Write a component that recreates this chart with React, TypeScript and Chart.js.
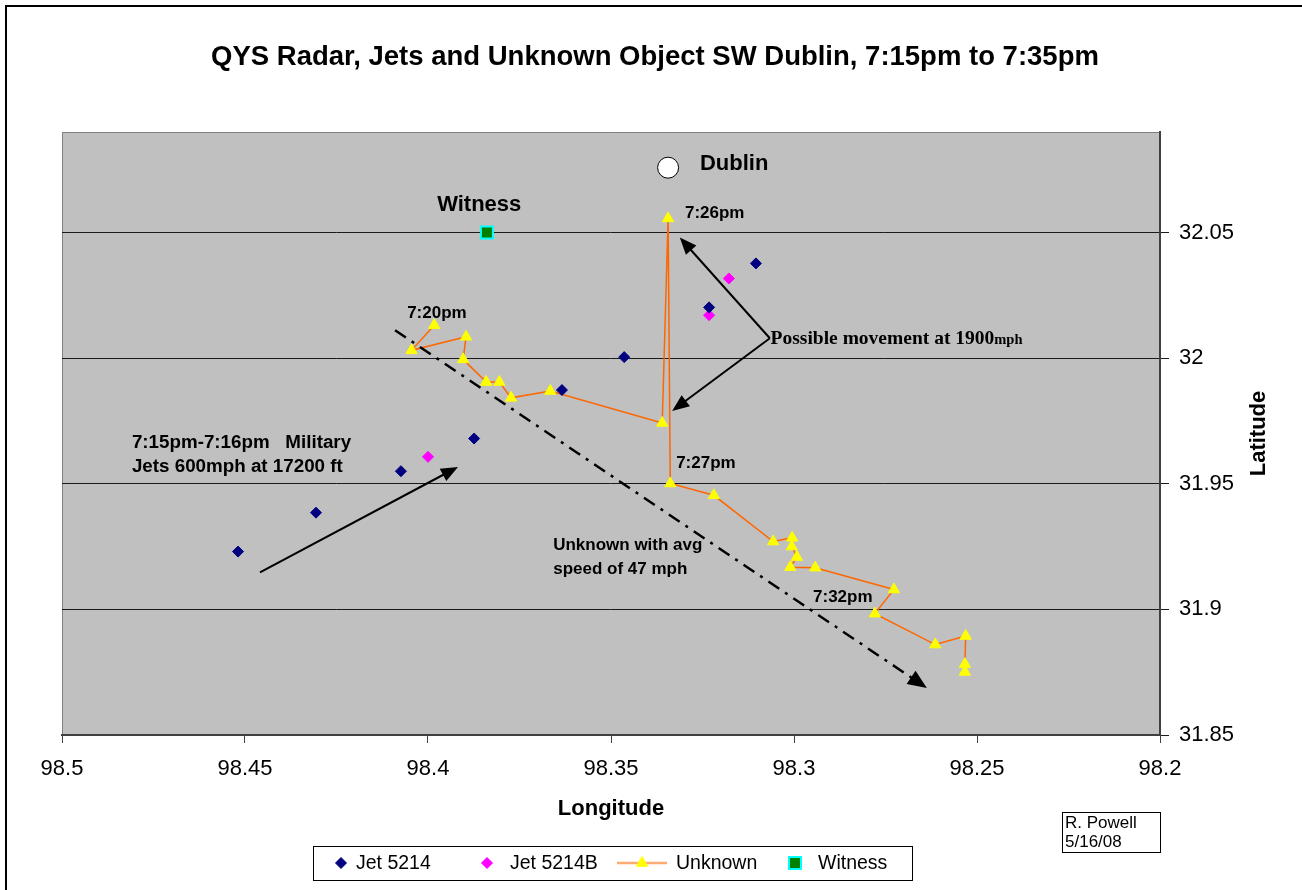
import { useEffect, useRef } from 'react';
import { Chart, registerables } from 'chart.js';
Chart.register(...registerables);

const SANS = '"Liberation Sans", Arial, sans-serif';
const SERIF = '"Liberation Serif", "Times New Roman", serif';

// ---- Data (longitude W, latitude N) ----
const seriesLabels = ['Jet 5214', 'Jet 5214B', 'Unknown', 'Witness'];

const jetLon = [98.4519, 98.4306, 98.4074, 98.3874, 98.3634, 98.3464, 98.3232, 98.3104];
const jetLat = [31.923, 31.9385, 31.955, 31.968, 31.9873, 32.0004, 32.0202, 32.0377];

const jetBLon = [98.4, 98.3232, 98.3178];
const jetBLat = [31.9607, 32.0171, 32.0317];

const unknownLon = [
  98.3983, 98.4045, 98.3896, 98.3904, 98.3841, 98.3805, 98.3773, 98.3666, 98.336, 98.3344,
  98.3338, 98.3219, 98.3057, 98.3005, 98.3006, 98.2992, 98.301, 98.2942, 98.2727, 98.2779,
  98.2614, 98.2531, 98.2533, 98.2533,
];
const unknownLat = [
  32.0131, 32.0031, 32.0085, 31.9995, 31.9905, 31.9905, 31.9842, 31.9869, 31.9742, 32.0556,
  31.9501, 31.9454, 31.927, 31.9285, 31.925, 31.9208, 31.9168, 31.9166, 31.9079, 31.8983,
  31.886, 31.8894, 31.8782, 31.8751,
];

const witnessLon = [98.3839];
const witnessLat = [32.05];

const dublinLon = [98.3344];
const dublinLat = [32.0758];

const xTicks = [98.5, 98.45, 98.4, 98.35, 98.3, 98.25, 98.2];
const yTicks = [31.85, 31.9, 31.95, 32, 32.05];

// ---- Annotations (in data coordinates) ----
const noteTexts = [
  'Dublin', 'Witness', '7:26pm', '7:20pm', '7:27pm', '7:32pm',
  '7:15pm-7:16pm   Military', 'Jets 600mph at 17200 ft', 'Unknown with avg', 'speed of 47 mph',
];
const noteLon = [98.3257, 98.3975, 98.3298, 98.4057, 98.3322, 98.2948, 98.4809, 98.4809, 98.3658, 98.3658];
const noteLat = [32.0774, 32.0611, 32.0575, 32.0179, 31.9583, 31.9048, 31.9663, 31.9567, 31.9254, 31.9159];
const noteSize = [22, 22, 17, 17, 17, 17, 18.8, 18.8, 17, 17];

const arrowFrom = [
  [98.4459, 31.9147],
  [98.409, 32.0111],
  [98.3066, 32.0079],
  [98.3066, 32.0079],
];
const arrowTo = [
  [98.3918, 31.9567],
  [98.2637, 31.8687],
  [98.3312, 32.048],
  [98.3333, 31.979],
];
const arrowDashed = [false, true, false, false];

const movementText = 'Possible movement at 1900';
const movementUnit = 'mph';
const movementLon = 98.3064;
const movementLat = 32.0079;

const pts = (xs: number[], ys: number[]) => xs.map((x, i) => ({ x, y: ys[i] }));
const fmt = (v: number) => String(Number(Number(v).toFixed(2)));

function drawMarker(ctx: CanvasRenderingContext2D, style: string, x: number, y: number, r: number, fill: string, stroke: string, bw: number) {
  ctx.save();
  ctx.beginPath();
  if (style === 'rectRot') {
    ctx.moveTo(x - r, y);
    ctx.lineTo(x, y - r);
    ctx.lineTo(x + r, y);
    ctx.lineTo(x, y + r);
    ctx.closePath();
  } else if (style === 'triangle') {
    const a = (2 * Math.PI) / 3;
    ctx.moveTo(x, y - r);
    ctx.lineTo(x + Math.sin(a) * r, y - Math.cos(a) * r);
    ctx.lineTo(x + Math.sin(2 * a) * r, y - Math.cos(2 * a) * r);
    ctx.closePath();
  } else {
    const s = Math.SQRT1_2 * r;
    ctx.rect(x - s, y - s, 2 * s, 2 * s);
  }
  ctx.fillStyle = fill;
  ctx.fill();
  if (bw > 0) {
    ctx.lineWidth = bw;
    ctx.strokeStyle = stroke;
    ctx.stroke();
  }
  ctx.restore();
}

function arrow(ctx: CanvasRenderingContext2D, x1: number, y1: number, x2: number, y2: number, dashed: boolean) {
  const ang = Math.atan2(y2 - y1, x2 - x1);
  const L = dashed ? 19 : 17;
  const W = dashed ? 8 : 7;
  const bx = x2 - Math.cos(ang) * L;
  const by = y2 - Math.sin(ang) * L;
  ctx.save();
  ctx.strokeStyle = '#000';
  ctx.fillStyle = '#000';
  ctx.lineWidth = dashed ? 2.5 : 2;
  if (dashed) ctx.setLineDash([13, 7, 3, 7]);
  ctx.beginPath();
  ctx.moveTo(x1, y1);
  ctx.lineTo(bx + Math.cos(ang) * 3, by + Math.sin(ang) * 3);
  ctx.stroke();
  ctx.setLineDash([]);
  ctx.beginPath();
  ctx.moveTo(x2, y2);
  ctx.lineTo(bx + Math.sin(ang) * W, by - Math.cos(ang) * W);
  ctx.lineTo(bx - Math.sin(ang) * W, by + Math.cos(ang) * W);
  ctx.closePath();
  ctx.fill();
  ctx.restore();
}

const backgroundPlugin = {
  id: 'plotBg',
  beforeDraw(chart: any) {
    const { ctx, chartArea: a } = chart;
    ctx.save();
    ctx.fillStyle = '#fff';
    ctx.fillRect(0, 0, chart.width, chart.height);
    ctx.fillStyle = '#C0C0C0';
    ctx.fillRect(a.left, a.top, a.right - a.left, a.bottom - a.top);
    ctx.strokeStyle = '#808080';
    ctx.lineWidth = 1;
    ctx.beginPath();
    ctx.moveTo(a.left + 0.5, a.bottom);
    ctx.lineTo(a.left + 0.5, a.top + 0.5);
    ctx.lineTo(a.right, a.top + 0.5);
    ctx.stroke();
    // outer chart border
    ctx.strokeStyle = '#000';
    ctx.lineWidth = 2;
    ctx.strokeRect(6, 6, chart.width + 20, chart.height + 20);
    ctx.restore();
  },
};

const annotationPlugin = {
  id: 'notes',
  afterDatasetsDraw(chart: any) {
    const { ctx } = chart;
    const xs = chart.scales.x;
    const ys = chart.scales.y;
    const X = (v: number) => xs.getPixelForValue(v);
    const Y = (v: number) => ys.getPixelForValue(v);
    ctx.save();
    ctx.fillStyle = '#000';
    ctx.textBaseline = 'middle';
    ctx.textAlign = 'left';
    noteTexts.forEach((t, i) => {
      ctx.font = `bold ${noteSize[i]}px ${SANS}`;
      ctx.fillText(t, X(noteLon[i]), Y(noteLat[i]));
    });
    ctx.textBaseline = 'alphabetic';
    const mx = X(movementLon);
    const my = Y(movementLat) + 6;
    ctx.font = `bold 19.5px ${SERIF}`;
    ctx.fillText(movementText, mx, my);
    const w = ctx.measureText(movementText).width;
    ctx.font = `bold 14.5px ${SERIF}`;
    ctx.fillText(movementUnit, mx + w, my);
    arrowFrom.forEach((f, i) => {
      arrow(ctx, X(f[0]), Y(f[1]), X(arrowTo[i][0]), Y(arrowTo[i][1]), arrowDashed[i]);
    });
    ctx.restore();
  },
};

const framePlugin = {
  id: 'frame',
  afterDraw(chart: any) {
    const { ctx, chartArea: a } = chart;
    ctx.save();
    ctx.fillStyle = '#000';
    // title
    ctx.font = `bold 27.5px ${SANS}`;
    ctx.textAlign = 'center';
    ctx.textBaseline = 'middle';
    ctx.fillText('QYS Radar, Jets and Unknown Object SW Dublin, 7:15pm to 7:35pm', 655, 57);
    // y title
    ctx.save();
    ctx.translate(1259, (a.top + a.bottom) / 2);
    ctx.rotate(-Math.PI / 2);
    ctx.font = `bold 22px ${SANS}`;
    ctx.fillText('Latitude', 0, 0);
    ctx.restore();
    // legend
    const lx = 313, ly = 846, lw = 599, lh = 34, cy = ly + lh / 2;
    ctx.fillStyle = '#fff';
    ctx.fillRect(lx, ly, lw, lh);
    ctx.strokeStyle = '#000';
    ctx.lineWidth = 1;
    ctx.strokeRect(lx + 0.5, ly + 0.5, lw, lh);
    const ds = chart.data.datasets;
    const markerX = [341, 487, 642, 795];
    const textX = [356, 510, 676, 818];
    ctx.font = `19.5px ${SANS}`;
    ctx.textAlign = 'left';
    ctx.fillStyle = '#000';
    for (let i = 0; i < 4; i++) {
      const d = ds[i];
      if (d.showLine) {
        ctx.strokeStyle = d.borderColor;
        ctx.globalAlpha = 0.55;
        ctx.lineWidth = 2.5;
        ctx.beginPath();
        ctx.moveTo(markerX[i] - 25, cy);
        ctx.lineTo(markerX[i] + 25, cy);
        ctx.stroke();
        ctx.globalAlpha = 1;
      }
      drawMarker(ctx, d.pointStyle, markerX[i], cy, d.pointRadius, d.pointBackgroundColor, d.pointBorderColor, d.pointBorderWidth);
      ctx.fillStyle = '#000';
      ctx.fillText(d.label, textX[i], cy + 1);
    }
    // author box
    ctx.strokeStyle = '#000';
    ctx.lineWidth = 1;
    ctx.strokeRect(1062.5, 812.5, 98, 40);
    ctx.font = `17px ${SANS}`;
    ctx.fillText('R. Powell', 1065, 823);
    ctx.fillText('5/16/08', 1065, 842);
    ctx.restore();
  },
};

export default function App() {
  const ref = useRef<HTMLCanvasElement>(null);
  useEffect(() => {
    document.body.style.margin = '0';
    document.body.style.overflow = 'hidden';
    const canvas = ref.current!;
    const chart = new Chart(canvas, {
      type: 'scatter',
      data: {
        datasets: [
          {
            label: seriesLabels[0],
            data: pts(jetLon, jetLat),
            pointStyle: 'rectRot',
            pointRadius: 5.5,
            pointBackgroundColor: '#000080',
            pointBorderColor: '#000080',
            pointBorderWidth: 1,
            showLine: false,
          },
          {
            label: seriesLabels[1],
            data: pts(jetBLon, jetBLat),
            pointStyle: 'rectRot',
            pointRadius: 5.5,
            pointBackgroundColor: '#FF00FF',
            pointBorderColor: '#FF00FF',
            pointBorderWidth: 1,
            showLine: false,
          },
          {
            label: seriesLabels[2],
            data: pts(unknownLon, unknownLat),
            pointStyle: 'triangle',
            pointRadius: 6.5,
            pointBackgroundColor: '#FFFF00',
            pointBorderColor: '#FFFF00',
            pointBorderWidth: 1,
            borderColor: '#FF6600',
            borderWidth: 1.5,
            showLine: true,
            tension: 0,
          },
          {
            label: seriesLabels[3],
            data: pts(witnessLon, witnessLat),
            pointStyle: 'rect',
            pointRadius: 8.5,
            pointBackgroundColor: '#008000',
            pointBorderColor: '#00FFFF',
            pointBorderWidth: 2,
            showLine: false,
          },
          {
            label: 'Dublin',
            data: pts(dublinLon, dublinLat),
            pointStyle: 'circle',
            pointRadius: 10.5,
            pointBackgroundColor: '#FFFFFF',
            pointBorderColor: '#000000',
            pointBorderWidth: 1,
            showLine: false,
          },
        ],
      } as any,
      options: {
        animation: false,
        responsive: false,
        devicePixelRatio: 1,
        events: [],
        layout: { padding: { left: 62, top: 132, right: 0, bottom: 60 }, autoPadding: false } as any,
        plugins: { legend: { display: false }, title: { display: false }, tooltip: { enabled: false } },
        scales: {
          x: {
            type: 'linear',
            reverse: true,
            min: 98.2,
            max: 98.5,
            afterBuildTicks: (axis: any) => {
              axis.ticks = xTicks.map((v) => ({ value: v }));
            },
            afterFit: (axis: any) => {
              axis.height = 95;
            },
            ticks: {
              callback: (v: any) => fmt(v),
              color: '#000',
              font: { family: SANS, size: 22 },
              padding: 13,
              maxRotation: 0,
              autoSkip: false,
            },
            grid: { drawOnChartArea: false, drawTicks: true, tickLength: 8, color: '#404040', lineWidth: 1 },
            border: { display: true, color: '#404040', width: 2 },
            title: {
              display: true,
              text: 'Longitude',
              color: '#000',
              font: { family: SANS, size: 22, weight: 'bold' },
              padding: { top: 0, bottom: 8 },
            },
          },
          y: {
            type: 'linear',
            position: 'right',
            min: 31.85,
            max: 32.09,
            afterBuildTicks: (axis: any) => {
              axis.ticks = yTicks.map((v) => ({ value: v }));
            },
            afterFit: (axis: any) => {
              axis.width = 142;
            },
            ticks: {
              callback: (v: any) => fmt(v),
              color: '#000',
              font: { family: SANS, size: 22 },
              padding: 10,
              autoSkip: false,
            },
            grid: { drawOnChartArea: true, drawTicks: true, tickLength: 9, color: '#1a1a1a', lineWidth: 1 },
            border: { display: true, color: '#404040', width: 2 },
            title: { display: false },
          },
        },
      } as any,
      plugins: [backgroundPlugin, annotationPlugin, framePlugin],
    });
    return () => chart.destroy();
  }, []);
  return <canvas ref={ref} width={1302} height={890} style={{ display: 'block' }} />;
}
